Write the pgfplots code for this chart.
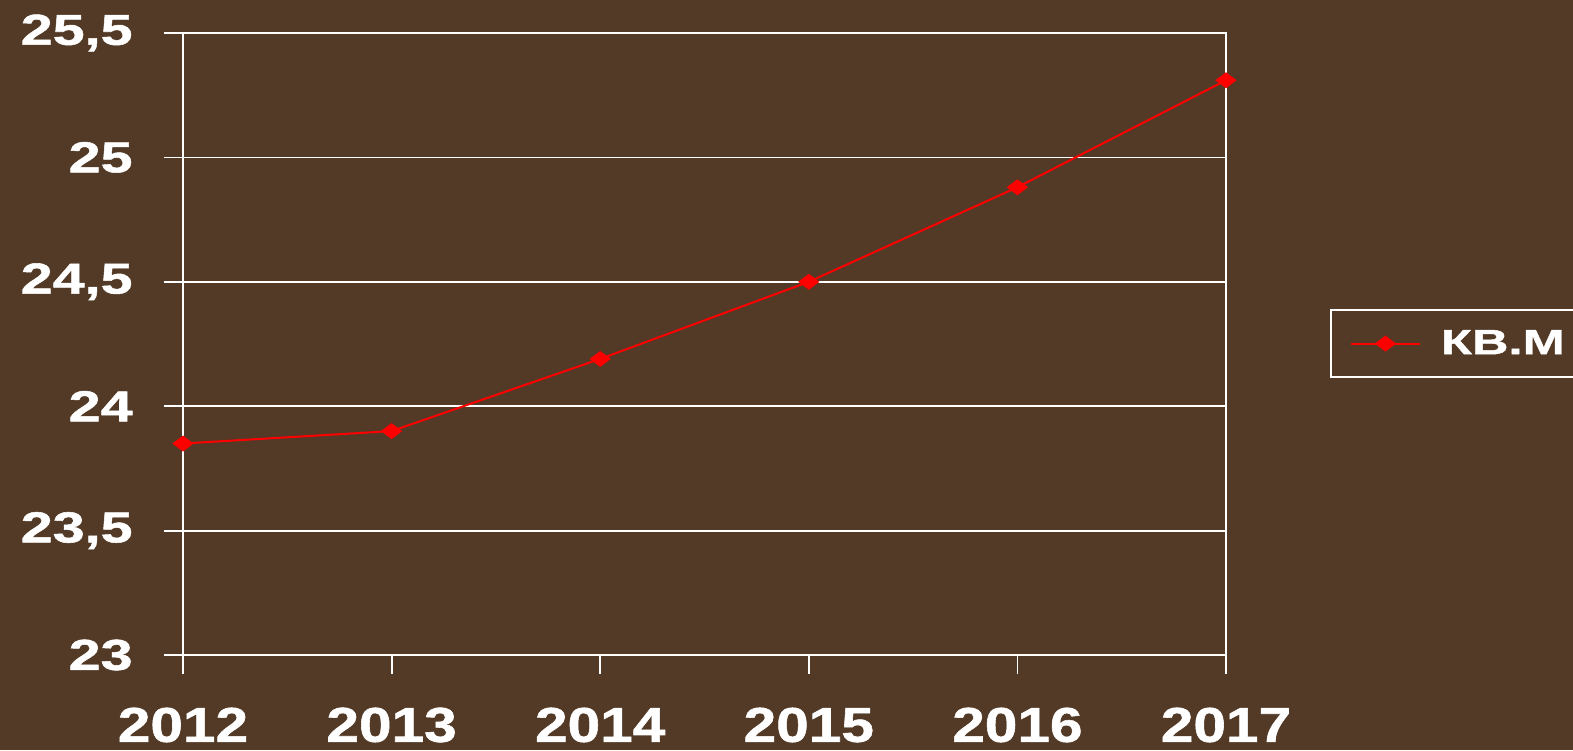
\documentclass[border=0pt]{standalone}
\usepackage{fontspec}
\setmainfont{Liberation Sans}
\newfontfamily\xlabfont[FakeStretch=1.2,FakeBold=1.2]{Liberation Sans}
\newfontfamily\ylabfont[FakeStretch=1.33,FakeBold=1.2]{Liberation Sans}
\newfontfamily\legfont[FakeStretch=1.45,FakeBold=1.2]{Liberation Sans}
\usepackage{pgfplots}
\pgfplotsset{compat=1.18}
\definecolor{bgbrown}{RGB}{82,58,38}

\begin{document}
\begin{tikzpicture}
\fill[bgbrown] (-91.5pt,-47.5pt) rectangle (695pt,327.5pt);
\useasboundingbox (-91.5pt,-47.5pt) rectangle (695pt,327.5pt);
\begin{axis}[
    at={(0,0)}, anchor=south west,
    scale only axis,
    width=521.5pt, height=311pt,
    xmin=2012, xmax=2017,
    ymin=23, ymax=25.5,
    xtick={2012,2013,2014,2015,2016,2017},
    xticklabels={2012,2013,2014,2015,2016,2017},
    ytick={23,23.5,24,24.5,25,25.5},
    /pgf/number format/use comma,
    /pgf/number format/assume math mode=true,
    axis line style={white, line width=0.9pt},
    ymajorgrids,
    major grid style={white, line width=0.9pt},
    tick style={white, line width=0.9pt},
    tick align=outside,
    major tick length=9.5pt,
    xtick pos=bottom, ytick pos=left,
    xticklabel style={anchor=center, inner sep=0pt, yshift=-25.5pt, text=white,
        font=\xlabfont\bfseries\fontsize{24.4}{24.4}\selectfont},
    yticklabel style={anchor=east, inner sep=0pt, xshift=-15.5pt, text=white,
        font=\ylabfont\bfseries\fontsize{21.6}{21.6}\selectfont},
    legend style={at={(1.0997,0.556)}, anchor=north west,
        draw=white, line width=0.9pt, fill=none, text=white,
        inner xsep=9.5pt, inner ysep=9pt,
        font=\legfont\bfseries\fontsize{17.5}{17.5}\selectfont,
        nodes={inner sep=1pt}, column sep=9pt},
    legend image code/.code={
        \draw[#1, mark repeat=2, mark phase=2]
            plot coordinates {(0pt,0pt) (17.25pt,0pt) (34.5pt,0pt)};},
]
\addplot[red, line width=1pt, mark=diamond*, mark size=4.5pt,
    mark options={rotate=90, solid, fill=red}]
    coordinates {(2012,23.85) (2013,23.90) (2014,24.19) (2015,24.50) (2016,24.88) (2017,25.31)};
\addlegendentry{КВ.М}
\end{axis}
\end{tikzpicture}
\end{document}
